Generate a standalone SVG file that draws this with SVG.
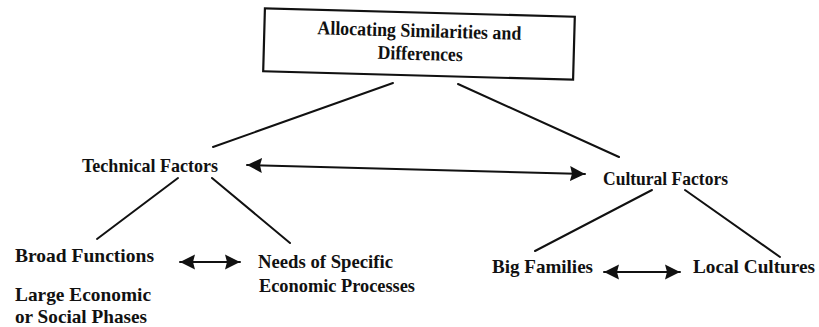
<svg xmlns="http://www.w3.org/2000/svg" width="819" height="327" viewBox="0 0 819 327">
<style>
  text { font-family: "Liberation Serif", "Times New Roman", serif; font-size: 19.5px; font-weight: bold; fill: #111; }
  .ln { stroke: #111; stroke-width: 2; fill: none; stroke-linecap: round; }
  .ar { marker-start: url(#ah); marker-end: url(#ah); }
  .box { fill: #fff; stroke: #111; stroke-width: 2.2; }
</style>
<defs>
  <marker id="ah" markerUnits="userSpaceOnUse" markerWidth="16" markerHeight="16" refX="15" refY="8" orient="auto-start-reverse">
    <path d="M0,0.5 L15,8 L0,15.5 L2,8 z" fill="#111"/>
  </marker>
</defs>
<rect width="819" height="327" fill="#fff"/>
<g id="connectors">
  <line class="ln" x1="393" y1="83" x2="213" y2="147"/>
  <line class="ln" x1="458" y1="84" x2="619" y2="157"/>
  <line class="ln ar" x1="247" y1="165" x2="585" y2="174"/>
  <line class="ln" x1="178" y1="178" x2="97" y2="239"/>
  <line class="ln" x1="212" y1="178" x2="290" y2="243"/>
  <line class="ln ar" x1="180" y1="262" x2="240" y2="262"/>
  <line class="ln" x1="652" y1="190" x2="535" y2="251"/>
  <line class="ln" x1="685" y1="190" x2="780" y2="257"/>
  <line class="ln ar" x1="604" y1="272" x2="680" y2="272"/>
</g>
<g id="root" transform="rotate(1.57 419 44)">
  <rect class="box" x="264" y="12.5" width="310" height="63"/>
  <text x="317" y="37" textLength="204" lengthAdjust="spacingAndGlyphs">Allocating Similarities and</text>
  <text x="378" y="60" textLength="85" lengthAdjust="spacingAndGlyphs">Differences</text>
</g>
<g id="technical"><text x="82" y="172" textLength="136" lengthAdjust="spacingAndGlyphs">Technical Factors</text></g>
<g id="cultural"><text x="603" y="185" textLength="125" lengthAdjust="spacingAndGlyphs">Cultural Factors</text></g>
<g id="broad">
  <text x="15" y="262" textLength="139" lengthAdjust="spacingAndGlyphs">Broad Functions</text>
  <text x="15" y="301" textLength="136" lengthAdjust="spacingAndGlyphs">Large Economic</text>
  <text x="15" y="323" textLength="132" lengthAdjust="spacingAndGlyphs">or Social Phases</text>
</g>
<g id="needs">
  <text x="258" y="268" textLength="135" lengthAdjust="spacingAndGlyphs">Needs of Specific</text>
  <text x="259" y="292" textLength="156" lengthAdjust="spacingAndGlyphs">Economic Processes</text>
</g>
<g id="big"><text x="492" y="273" textLength="101" lengthAdjust="spacingAndGlyphs">Big Families</text></g>
<g id="local"><text x="693" y="273" textLength="122" lengthAdjust="spacingAndGlyphs">Local Cultures</text></g>
</svg>
